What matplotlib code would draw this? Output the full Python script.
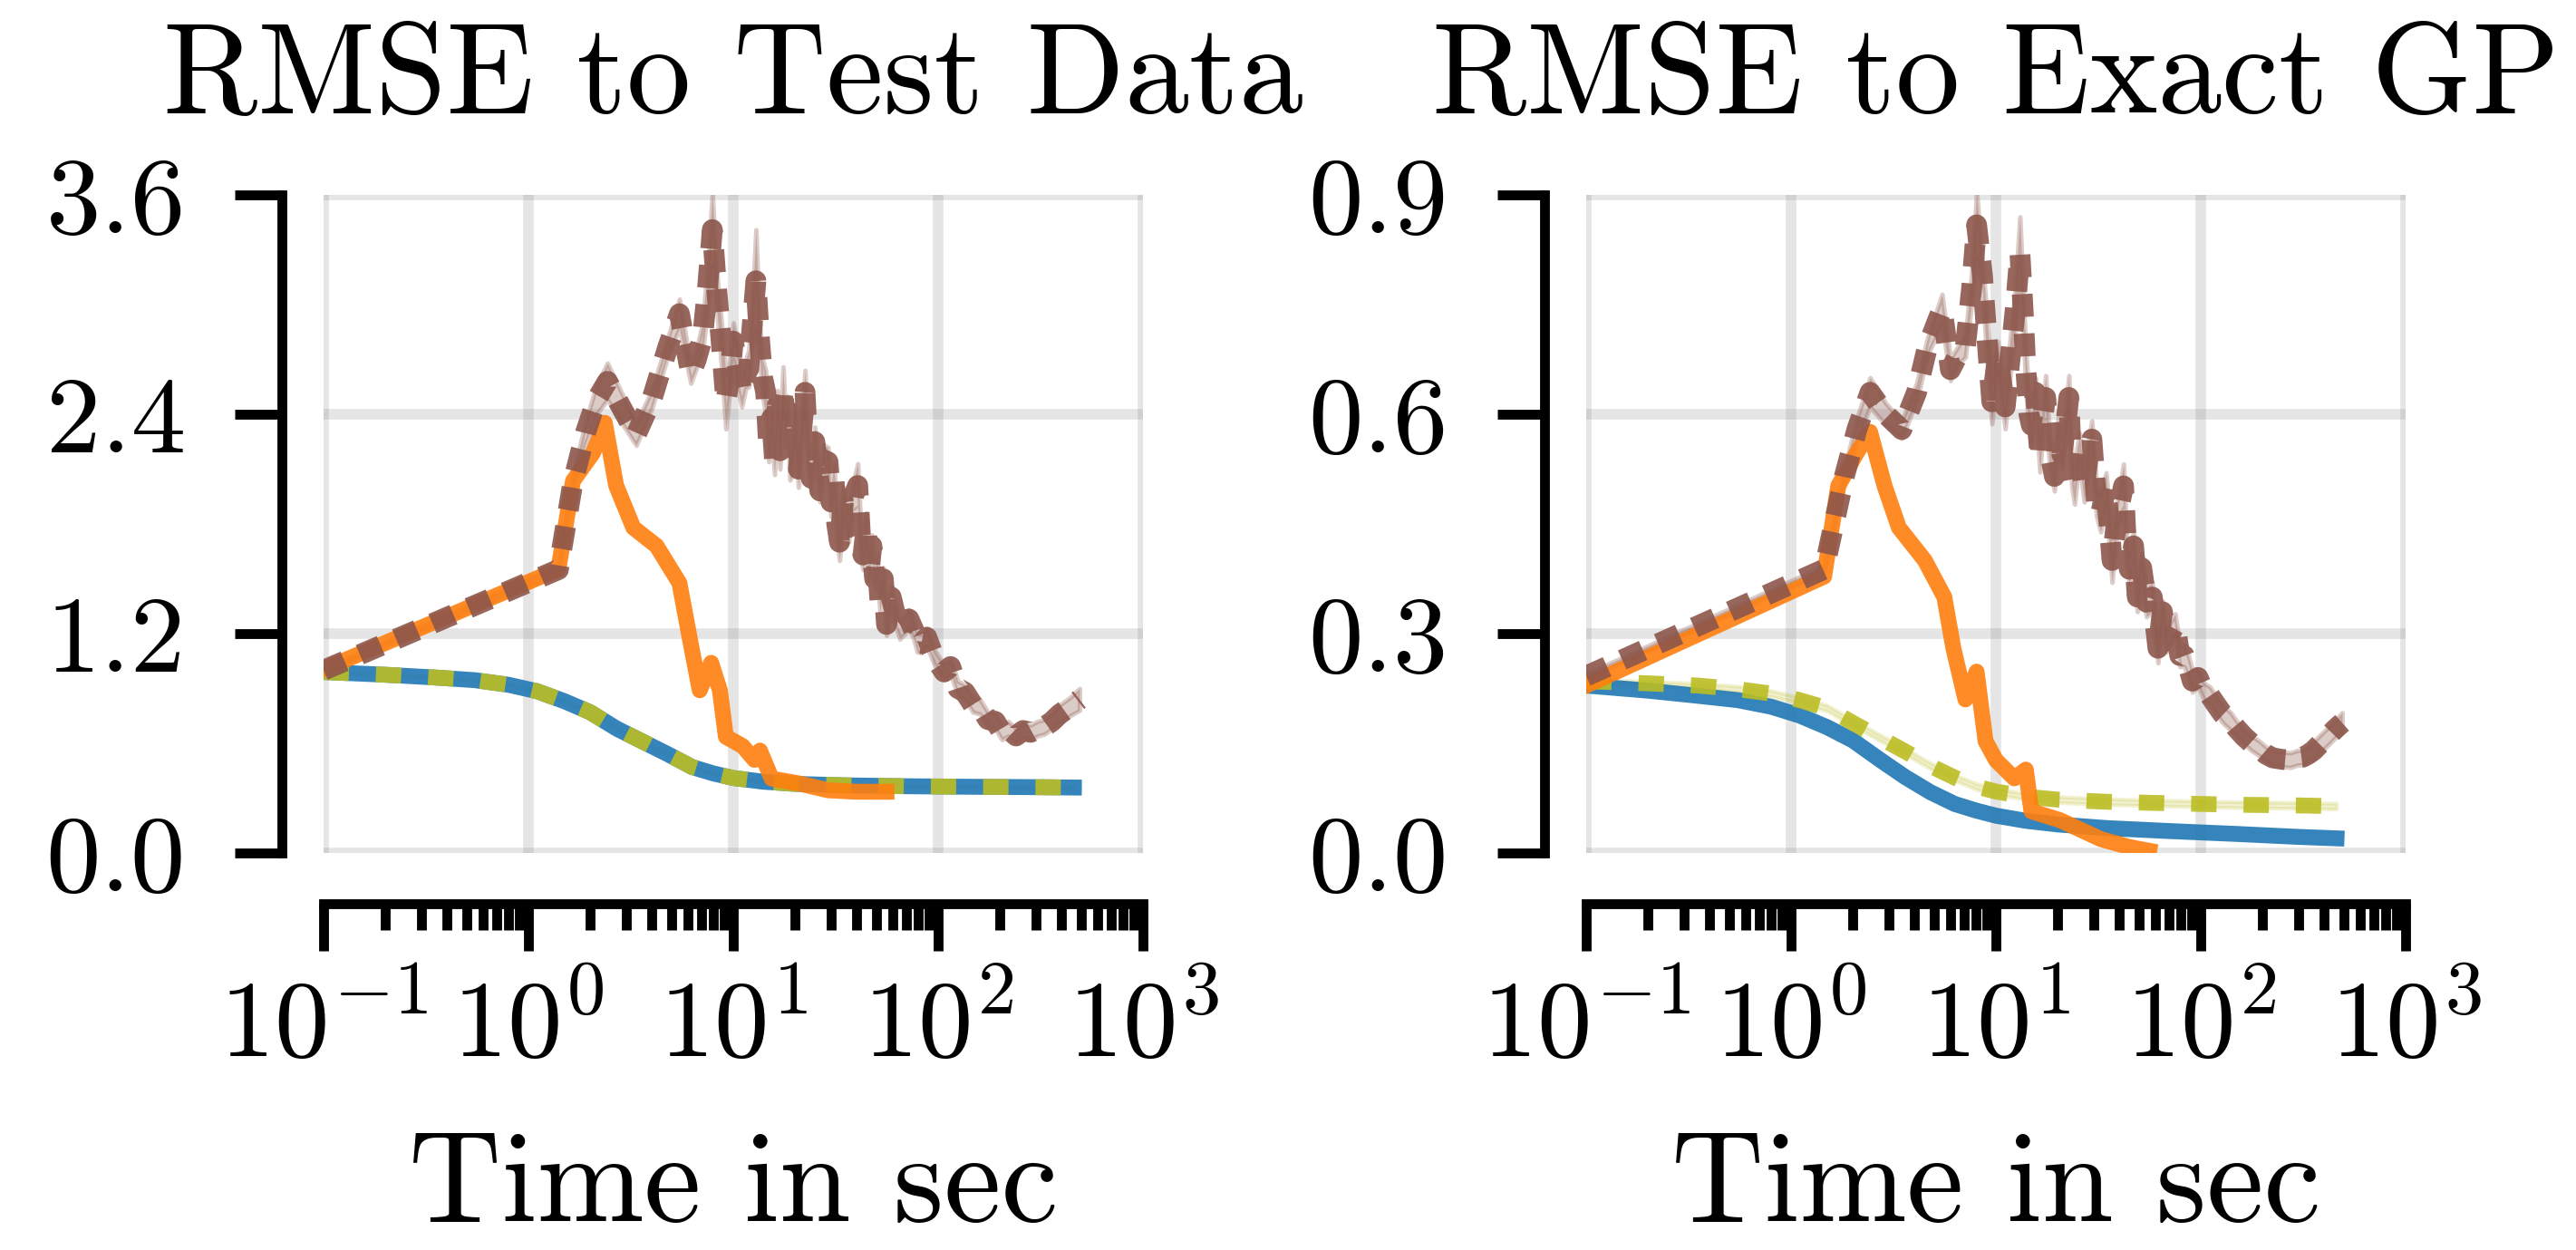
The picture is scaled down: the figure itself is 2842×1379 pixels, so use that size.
import numpy as np
import matplotlib
matplotlib.use("Agg")
import matplotlib.pyplot as plt

plt.rcParams['font.family'] = 'serif'
plt.rcParams['font.serif'] = ['cmr10']
plt.rcParams['mathtext.fontset'] = 'cm'
plt.rcParams['axes.formatter.use_mathtext'] = True
plt.rcParams['axes.unicode_minus'] = False

C_BLUE = '#1f77b4'
C_ORANGE = '#ff7f0e'
C_OLIVE = '#bcbd22'
C_BROWN = '#8c564b'

# ---------- data ----------
t_smooth = [0.1, 0.2, 0.35, 0.55, 0.8, 1.1, 1.5, 2.0, 2.7, 3.6, 4.8, 6.3, 8.0,
            10, 14, 20, 35, 70, 150, 300, 460]

# left panel: RMSE to test data
test_blue = [0.99, 0.975, 0.96, 0.945, 0.92, 0.885, 0.83, 0.77, 0.68, 0.61, 0.54,
             0.47, 0.435, 0.41, 0.39, 0.378, 0.37, 0.365, 0.362, 0.36, 0.358]
test_olive = [0.99, 0.975, 0.96, 0.945, 0.92, 0.885, 0.83, 0.77, 0.68, 0.61, 0.54,
              0.47, 0.435, 0.41, 0.39, 0.378, 0.37, 0.365, 0.362, 0.36, 0.358]
test_olive_std = [0.004] * 21

t_orange_test = [0.1, 1.4, 1.65, 2.07, 2.36, 2.68, 3.25, 4.22, 5.46, 6.2, 6.86,
                 7.8, 8.6, 9.2, 11.1, 12.7, 13.5, 15.4, 21, 29, 40, 56]
test_orange = [1.005, 1.552, 2.035, 2.19, 2.353, 2.01, 1.78, 1.68, 1.476, 1.145, 0.89,
               1.04, 0.89, 0.636, 0.585, 0.509, 0.56, 0.407, 0.38, 0.343, 0.335, 0.335]

t_brown_test = [0.1, 1.4, 1.65, 1.9, 2.15, 2.43, 2.9, 3.36, 4.0, 4.8,
                5.46, 5.9, 6.2, 6.6, 7.08, 7.5, 7.9, 8.3, 8.7, 9.2,
                9.6, 10.0, 10.5, 11.0, 11.5, 11.9, 12.4, 12.9, 13.4, 13.9,
                14.4, 14.9, 15.4, 15.9, 16.4, 16.9, 17.5, 18.0, 18.4, 18.9,
                19.3, 20.0, 20.8, 21.6, 22.4, 23.2, 24, 25, 26.5, 27.7,
                29, 30, 31, 32, 33, 34.5, 36.5, 38.5, 40.5, 42,
                43, 44.5, 46, 47.5, 49, 50.5, 52, 54, 56, 59,
                62, 65, 69, 72, 76, 79, 83, 88, 95, 100,
                107, 115, 125, 135, 148, 160, 175, 190, 205, 220,
                240, 260, 283, 305, 330, 360, 392, 440, 490]
test_brown = [1.0, 1.55, 2.03, 2.30, 2.48, 2.58, 2.42, 2.29, 2.48, 2.77,
              2.95, 2.75, 2.62, 2.70, 2.82, 3.10, 3.41, 3.08, 2.82, 2.47,
              2.60, 2.80, 2.66, 2.52, 2.62, 2.65, 2.90, 3.13, 2.82, 2.60,
              2.52, 2.22, 2.38, 2.15, 2.45, 2.20, 2.54, 2.30, 2.42, 2.12,
              2.14, 2.35, 2.10, 2.32, 2.52, 2.18, 2.05, 2.25, 1.98, 2.15,
              2.14, 1.92, 2.05, 1.80, 1.70, 1.92, 1.78, 1.95, 2.01, 1.68,
              1.63, 1.78, 1.55, 1.68, 1.50, 1.58, 1.38, 1.50, 1.25, 1.40,
              1.30, 1.22, 1.25, 1.28, 1.22, 1.15, 1.145, 1.18, 1.08, 1.04,
              0.99, 1.02, 0.90, 0.88, 0.81, 0.80, 0.73, 0.72, 0.66, 0.68,
              0.64, 0.67, 0.66, 0.68, 0.69, 0.72, 0.76, 0.80, 0.84]
test_brown_std = [0.01, 0.02, 0.04, 0.06, 0.08, 0.10, 0.08, 0.06, 0.05, 0.05,
                  0.08, 0.06, 0.05, 0.05, 0.08, 0.12, 0.20, 0.10, 0.12, 0.15,
                  0.08, 0.10, 0.12, 0.08, 0.08, 0.10, 0.12, 0.28, 0.10, 0.10,
                  0.12, 0.08, 0.10, 0.08, 0.08, 0.10, 0.12, 0.08, 0.08, 0.08,
                  0.08, 0.10, 0.10, 0.08, 0.12, 0.08, 0.08, 0.08, 0.06, 0.08,
                  0.08, 0.08, 0.08, 0.08, 0.10, 0.08, 0.08, 0.08, 0.12, 0.08,
                  0.08, 0.08, 0.06, 0.06, 0.06, 0.06, 0.06, 0.06, 0.06, 0.06,
                  0.06, 0.05, 0.05, 0.05, 0.05, 0.05, 0.05, 0.05, 0.04, 0.04,
                  0.04, 0.04, 0.04, 0.04, 0.04, 0.04, 0.04, 0.04, 0.04, 0.04,
                  0.04, 0.04, 0.04, 0.04, 0.04, 0.04, 0.05, 0.05, 0.06]

# right panel: RMSE to exact GP
gp_blue = [0.229, 0.222, 0.215, 0.209, 0.2, 0.188, 0.172, 0.154, 0.128, 0.104, 0.083,
           0.067, 0.058, 0.051, 0.044, 0.039, 0.034, 0.030, 0.026, 0.022, 0.020]
gp_olive = [0.235, 0.232, 0.229, 0.224, 0.218, 0.209, 0.198, 0.178, 0.158, 0.139, 0.119,
            0.103, 0.091, 0.084, 0.077, 0.073, 0.070, 0.068, 0.066, 0.065, 0.064]
gp_olive_std = [0.003, 0.003, 0.003, 0.004, 0.004, 0.004, 0.004, 0.004, 0.004, 0.004, 0.004,
                0.004, 0.004, 0.004, 0.004, 0.004, 0.004, 0.004, 0.004, 0.004, 0.004]

t_orange_gp = [0.1, 1.45, 1.7, 2.07, 2.43, 2.86, 3.36, 4.5, 5.6, 6.2, 7.1,
               8.05, 8.9, 10, 12.3, 14, 14.9, 20.5, 32.5, 45, 56]
gp_orange = [0.229, 0.378, 0.502, 0.545, 0.576, 0.502, 0.445, 0.40, 0.35, 0.28, 0.21,
             0.248, 0.153, 0.127, 0.102, 0.114, 0.057, 0.045, 0.019, 0.008, 0.003]

t_brown_gp = [0.1, 1.45, 1.82, 2.1, 2.43, 2.9, 3.47, 4.1, 4.64, 5.46,
              6.0, 6.5, 7.1, 7.6, 8.05, 8.6, 9.0, 9.55, 10.2, 11.1,
              11.7, 12.4, 13.1, 13.6, 14.0, 14.5, 14.9, 15.6, 16.4, 17.0,
              17.5, 18.3, 19.3, 20.1, 21, 21.8, 22.7, 23.5, 24.2, 25.5,
              27, 28.2, 29.4, 31, 32.5, 34.5, 36.9, 39, 42, 43.5,
              44.8, 47, 49, 51.5, 54.3, 58, 61.8, 65, 68, 71,
              75, 79, 83, 87, 91, 97, 104, 111, 118, 128,
              140, 150, 163, 177, 193, 208, 225, 250, 274, 295,
              315, 335, 355, 385, 420, 455, 490]
gp_brown = [0.242, 0.388, 0.515, 0.58, 0.63, 0.60, 0.579, 0.63, 0.693, 0.744,
            0.661, 0.68, 0.693, 0.77, 0.859, 0.789, 0.712, 0.617, 0.68, 0.61,
            0.674, 0.74, 0.82, 0.738, 0.661, 0.60, 0.585, 0.63, 0.541, 0.60,
            0.623, 0.55, 0.515, 0.575, 0.545, 0.58, 0.623, 0.52, 0.502, 0.555,
            0.50, 0.54, 0.566, 0.48, 0.464, 0.50, 0.40, 0.46, 0.502, 0.41,
            0.388, 0.42, 0.35, 0.39, 0.343, 0.35, 0.28, 0.33, 0.29, 0.30,
            0.312, 0.27, 0.27, 0.255, 0.235, 0.24, 0.22, 0.215, 0.204, 0.19,
            0.18, 0.17, 0.159, 0.15, 0.143, 0.135, 0.130, 0.128, 0.127, 0.13,
            0.131, 0.135, 0.14, 0.15, 0.16, 0.17, 0.178]
gp_brown_std = [0.003, 0.005, 0.01, 0.015, 0.02, 0.015, 0.012, 0.012, 0.012, 0.02,
                0.015, 0.012, 0.015, 0.02, 0.045, 0.02, 0.03, 0.03, 0.02, 0.03,
                0.025, 0.03, 0.05, 0.025, 0.025, 0.025, 0.03, 0.02, 0.02, 0.02,
                0.03, 0.02, 0.02, 0.02, 0.02, 0.02, 0.03, 0.02, 0.025, 0.02,
                0.02, 0.02, 0.025, 0.02, 0.025, 0.02, 0.03, 0.02, 0.03, 0.02,
                0.02, 0.02, 0.02, 0.02, 0.02, 0.02, 0.02, 0.015, 0.015, 0.015,
                0.015, 0.015, 0.015, 0.015, 0.015, 0.012, 0.012, 0.012, 0.012, 0.012,
                0.012, 0.01, 0.01, 0.01, 0.01, 0.01, 0.01, 0.01, 0.01, 0.01,
                0.01, 0.01, 0.012, 0.012, 0.012, 0.012, 0.014]

titles = ['RMSE to Test Data', 'RMSE to Exact GP']
yticks_left = [0.0, 1.2, 2.4, 3.6]
yticks_right = [0.0, 0.3, 0.6, 0.9]

# ---------- figure ----------
W, H = 2842, 1379
fig = plt.figure(figsize=(W / 300, H / 300), dpi=300)
ax1 = fig.add_axes([357 / W, (H - 941) / H, 904 / W, 726 / H])
ax2 = fig.add_axes([1750 / W, (H - 941) / H, 904 / W, 726 / H])


def band(ax, t, y, s, color, alpha, lw):
    y = np.array(y)
    s = np.array(s)
    ax.fill_between(t, y - s, y + s, color=color, alpha=alpha, lw=lw, zorder=2)


def panel(ax, title, yticks, blue, olive, olive_std, t_or, orange, t_br, brown, brown_std):
    band(ax, t_smooth, olive, olive_std, C_OLIVE, 0.2, 1.0)
    band(ax, t_br, brown, brown_std, C_BROWN, 0.3, 1.2)
    ax.plot(t_smooth, blue, color=C_BLUE, lw=4.2, alpha=0.9, zorder=3)
    ax.plot(t_smooth, olive, color=C_OLIVE, lw=4.2, alpha=0.9, dashes=(1.6, 1.7), zorder=4)
    ax.plot(t_or, orange, color=C_ORANGE, lw=4.2, alpha=0.9, zorder=5)
    ax.plot(t_br, brown, color=C_BROWN, lw=5.5, alpha=0.9, dashes=(1.1, 0.8), zorder=6)

    ax.set_xscale('log')
    ax.set_xlim(0.1, 1000)
    ax.set_ylim(yticks[0], yticks[-1])
    ax.set_yticks(yticks)
    ax.set_yticklabels([f'{v:.1f}' for v in yticks])
    ax.minorticks_off()
    ax.xaxis.set_minor_locator(matplotlib.ticker.LogLocator(base=10, subs=np.arange(2, 10), numticks=20))
    ax.xaxis.set_minor_formatter(matplotlib.ticker.NullFormatter())

    ax.grid(True, which='major', color='gray', alpha=0.2, lw=2.8)
    ax.set_axisbelow(True)
    for side in ['top', 'right']:
        ax.spines[side].set_visible(False)
    ax.spines['left'].set_position(('outward', 11))
    ax.spines['bottom'].set_position(('outward', 13.5))
    for side in ['left', 'bottom']:
        ax.spines[side].set_linewidth(2.6)
    ax.tick_params(axis='both', which='major', direction='out', length=12.5, width=2.6, labelsize=29)
    ax.tick_params(axis='x', which='minor', direction='out', length=7, width=2.6)
    ax.tick_params(axis='x', which='major', pad=7)
    ax.tick_params(axis='y', which='major', pad=13)

    ax.set_title(title, fontsize=34, pad=22)
    ax.set_xlabel('Time in sec', fontsize=34, labelpad=14)


panel(ax1, titles[0], yticks_left, test_blue, test_olive, test_olive_std,
      t_orange_test, test_orange, t_brown_test, test_brown, test_brown_std)
panel(ax2, titles[1], yticks_right, gp_blue, gp_olive, gp_olive_std,
      t_orange_gp, gp_orange, t_brown_gp, gp_brown, gp_brown_std)

fig.savefig('out.png', dpi=300)
